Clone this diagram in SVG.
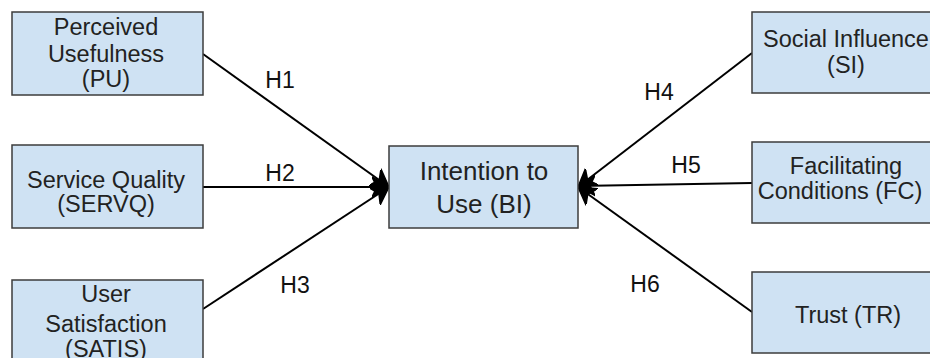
<svg xmlns="http://www.w3.org/2000/svg" width="930" height="358" viewBox="0 0 930 358">
<style>
.box{fill:#cfe2f3;stroke:#3c3c3c;stroke-width:1.5}
.t{font-family:"Liberation Sans",Arial,sans-serif;font-size:23.5px;fill:#222;text-anchor:middle}
.bi{font-size:26px}
.lbl{font-family:"Liberation Sans",Arial,sans-serif;font-size:23px;fill:#111;text-anchor:middle}
.c{stroke:#000;stroke-width:2;fill:none;marker-end:url(#ah)}
</style>
<defs>
<marker id="ah" markerUnits="userSpaceOnUse" markerWidth="22" markerHeight="24" refX="17" refY="11" orient="auto" viewBox="0 0 22 22">
<path d="M0,1 L17,11 L0,21 L5,11 Z" fill="#000" stroke="#000" stroke-width="1.5" stroke-linejoin="round"/>
</marker>
</defs>
<rect width="930" height="358" fill="#fff"/>
<g id="connectors">
<line class="c" x1="203" y1="54" x2="389" y2="187"/>
<line class="c" x1="203" y1="187" x2="389" y2="187"/>
<line class="c" x1="203" y1="309" x2="389" y2="187"/>
<line class="c" x1="752" y1="53" x2="578" y2="187"/>
<line class="c" x1="752" y1="183" x2="578" y2="186"/>
<line class="c" x1="752" y1="312" x2="578" y2="187"/>
<text class="lbl" x="280" y="88">H1</text>
<text class="lbl" x="280" y="181">H2</text>
<text class="lbl" x="295" y="293">H3</text>
<text class="lbl" x="659" y="100">H4</text>
<text class="lbl" x="686" y="173">H5</text>
<text class="lbl" x="645" y="292">H6</text>
</g>
<g id="PU">
<rect class="box" x="12" y="12" width="191" height="83"/>
<text class="t" x="106" y="35">Perceived</text>
<text class="t" x="106" y="62">Usefulness</text>
<text class="t" x="106" y="87">(PU)</text>
</g>
<g id="SERVQ">
<rect class="box" x="12" y="145" width="191" height="83"/>
<text class="t" x="106" y="188">Service Quality</text>
<text class="t" x="106" y="212">(SERVQ)</text>
</g>
<g id="SATIS">
<rect class="box" x="12" y="280" width="191" height="100"/>
<text class="t" x="106" y="302">User</text>
<text class="t" x="106" y="332">Satisfaction</text>
<text class="t" x="106" y="357">(SATIS)</text>
</g>
<g id="BI">
<rect class="box" x="389" y="146" width="189" height="82"/>
<text class="t bi" x="484" y="180">Intention to</text>
<text class="t bi" x="484" y="213">Use (BI)</text>
</g>
<g id="SI">
<rect class="box" x="752" y="12" width="190" height="81"/>
<text class="t" x="846" y="47">Social Influence</text>
<text class="t" x="846" y="73">(SI)</text>
</g>
<g id="FC">
<rect class="box" x="752" y="142" width="190" height="81"/>
<text class="t" x="846" y="174">Facilitating</text>
<text class="t" x="840" y="199">Conditions (FC)</text>
</g>
<g id="TR">
<rect class="box" x="752" y="272" width="190" height="81"/>
<text class="t" x="848" y="323">Trust (TR)</text>
</g>
</svg>
